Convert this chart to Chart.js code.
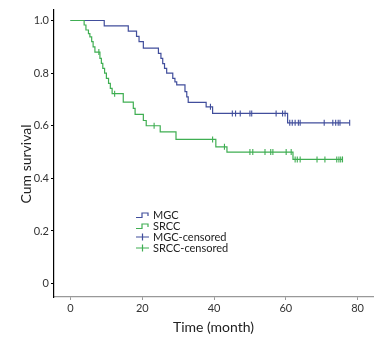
<!DOCTYPE html>
<html>
<head>
<meta charset="utf-8">
<script src="https://cdn.jsdelivr.net/npm/chart.js@4/dist/chart.umd.min.js"></script>
<style>
  html, body { margin: 0; padding: 0; background: #fff; }
  #wrap { width: 384px; height: 345px; }
</style>
</head>
<body>
<div id="wrap"><canvas id="c" width="384" height="345"></canvas></div>
<script>
// Axis ticks
const xTicks = [0, 20, 40, 60, 80];
const yTicks = [0, 0.2, 0.4, 0.6, 0.8, 1.0];

// Kaplan-Meier steps: event times (months) and survival after each step
const mgcTime = [0, 9.4, 16.1, 18.4, 19.1, 20.3, 24.5, 25.2, 25.7, 26.2, 26.8, 28.5, 29.1, 29.6, 31.9, 32.4, 32.8, 37.8, 39.6, 60.5];
const mgcSurv = [1.0, 0.98, 0.96, 0.94, 0.92, 0.895, 0.875, 0.856, 0.836, 0.818, 0.80, 0.78, 0.767, 0.755, 0.73, 0.71, 0.689, 0.672, 0.647, 0.611];
const mgcCensor = [39.0, 45.1, 46.0, 47.3, 50.0, 50.5, 57.3, 59.1, 59.8, 61.1, 61.8, 62.6, 63.5, 64.0, 70.7, 73.1, 73.9, 74.6, 75.1, 77.8];

const srccTime = [0, 3.8, 4.3, 5.0, 5.4, 5.9, 6.3, 6.8, 8.2, 8.6, 9.0, 9.5, 10.0, 10.6, 11.1, 11.6, 14.7, 17.5, 18.0, 20.3, 21.1, 25.0, 29.4, 40.5, 43.6, 62.0];
const srccSurv = [1.0, 0.983, 0.964, 0.95, 0.938, 0.92, 0.90, 0.88, 0.856, 0.837, 0.818, 0.80, 0.78, 0.761, 0.742, 0.722, 0.69, 0.666, 0.643, 0.62, 0.60, 0.577, 0.548, 0.52, 0.50, 0.472];
const srccCensor = [7.9, 12.3, 23.3, 39.6, 42.9, 50.0, 50.8, 54.2, 55.8, 56.4, 60.1, 61.5, 62.6, 63.2, 64.0, 68.7, 70.9, 74.2, 74.8, 75.3, 75.8];

const groups = ['MGC', 'SRCC'];
const legendLabels = ['MGC', 'SRCC', 'MGC-censored', 'SRCC-censored'];

const BLUE = '#414e9c';
const GREEN = '#3fae52';
const FONT = 'Lato, "Open Sans", sans-serif';

// survival level of a step curve at time t
function levelAt(times, surv, t) {
  let s = surv[0];
  for (let i = 0; i < times.length; i++) if (times[i] <= t) s = surv[i];
  return s;
}

function curvePoints(times, surv, censor) {
  const pts = times.map((t, i) => ({ x: t, y: surv[i] }));
  const end = Math.max(...censor, times[times.length - 1]);
  pts.push({ x: end, y: levelAt(times, surv, end) });
  return pts;
}

function censorPoints(times, surv, censor) {
  return censor.map(t => ({ x: t, y: levelAt(times, surv, t) }));
}

const stepStyle = (color, order) => ({
  borderColor: color, backgroundColor: color, borderWidth: 1.2,
  stepped: 'before', pointRadius: 0, fill: false, order
});
const tickStyle = (color, order) => ({
  showLine: false, pointStyle: 'line', rotation: 90, pointRadius: 3,
  borderColor: color, backgroundColor: color, pointBorderWidth: 1.1, order
});

// Legend and y-axis title drawn inside the canvas
const extras = {
  id: 'extras',
  afterDraw(chart) {
    const ctx = chart.ctx;
    const colors = [BLUE, GREEN, BLUE, GREEN];
    ctx.save();
    ctx.font = '11px ' + FONT;
    ctx.textBaseline = 'middle';
    ctx.textAlign = 'left';
    const x0 = 136, rowY = [215, 226, 237, 248];
    legendLabels.forEach((lab, i) => {
      const y = rowY[i];
      ctx.strokeStyle = colors[i];
      ctx.lineWidth = 1.2;
      ctx.beginPath();
      if (i < 2) {
        ctx.moveTo(x0, y + 2.5); ctx.lineTo(x0 + 6, y + 2.5);
        ctx.lineTo(x0 + 6, y - 2); ctx.lineTo(x0 + 12, y - 2);
        ctx.lineTo(x0 + 12, y + 1);
      } else {
        ctx.moveTo(x0, y); ctx.lineTo(x0 + 13, y);
        ctx.moveTo(x0 + 6.5, y - 3.5); ctx.lineTo(x0 + 6.5, y + 3.5);
      }
      ctx.stroke();
      ctx.fillStyle = '#222';
      ctx.fillText(lab, x0 + 17, y + 0.5);
    });
    // y-axis title
    ctx.translate(26, 164);
    ctx.rotate(-Math.PI / 2);
    ctx.textAlign = 'center';
    ctx.font = '14px ' + FONT;
    ctx.fillStyle = '#222';
    ctx.fillText('Cum survival', 0, 0);
    ctx.restore();
  }
};

new Chart(document.getElementById('c'), {
  type: 'line',
  data: {
    datasets: [
      { label: groups[0], data: curvePoints(mgcTime, mgcSurv, mgcCensor), ...stepStyle(BLUE, 3) },
      { label: groups[1], data: curvePoints(srccTime, srccSurv, srccCensor), ...stepStyle(GREEN, 2) },
      { label: legendLabels[2], data: censorPoints(mgcTime, mgcSurv, mgcCensor), ...tickStyle(BLUE, 1) },
      { label: legendLabels[3], data: censorPoints(srccTime, srccSurv, srccCensor), ...tickStyle(GREEN, 0) }
    ]
  },
  options: {
    responsive: false,
    animation: false,
    layout: { padding: { top: 10, right: 11, left: 0, bottom: 0 } },
    plugins: { legend: { display: false }, tooltip: { enabled: false } },
    scales: {
      x: {
        type: 'linear', min: -4.6, max: 84.3,
        afterBuildTicks: s => { s.ticks = xTicks.map(v => ({ value: v })); },
        afterFit: s => { s.height = 48; },
        grid: { drawOnChartArea: false, tickLength: 3, color: '#999' },
        border: { display: true, color: '#999', width: 1.2 },
        ticks: { color: '#333', font: { family: FONT, size: 11 }, padding: 2, maxRotation: 0 },
        title: { display: true, text: 'Time (month)', color: '#222', font: { family: FONT, size: 14 }, padding: { top: 0, bottom: 9 } }
      },
      y: {
        type: 'linear', min: -0.051, max: 1.04,
        afterBuildTicks: s => { s.ticks = yTicks.map(v => ({ value: v })); },
        afterFit: s => { s.width = 54; },
        grid: { drawOnChartArea: false, tickLength: 3, color: '#000' },
        border: { display: true, color: '#000', width: 1.2 },
        ticks: { color: '#333', font: { family: FONT, size: 11 }, padding: 2,
          callback: v => v === 0 ? '0' : v.toFixed(1) }
      }
    }
  },
  plugins: [extras]
});
</script>
</body>
</html>
